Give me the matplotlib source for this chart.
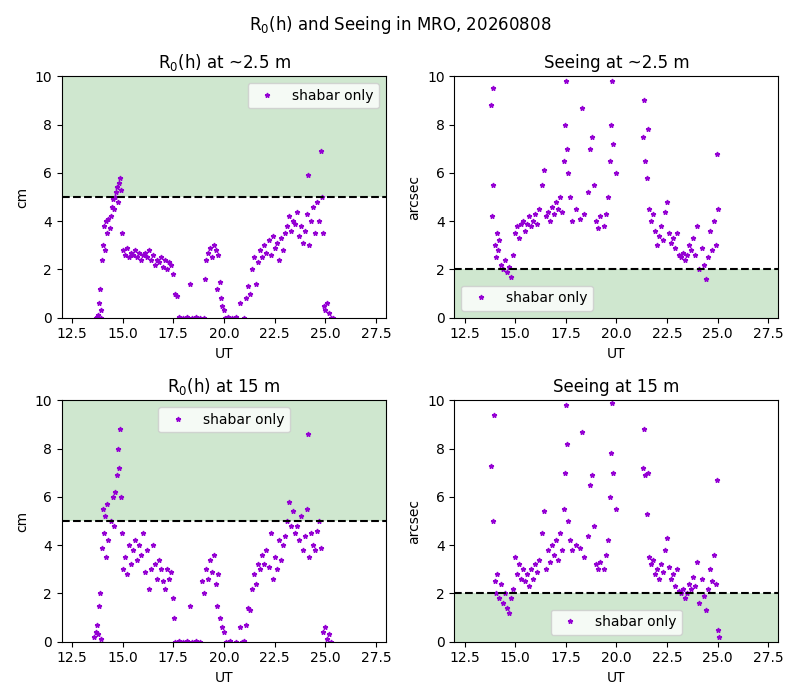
import numpy as np
import matplotlib.pyplot as plt

# R0 at ~2.5 m
t_r0_low = [13.70, 13.75, 13.80, 13.85, 13.88, 13.92, 13.95, 14.00, 14.05, 14.10, 14.15, 14.20, 14.25, 14.30, 14.35, 14.40, 14.45, 14.50, 14.55, 14.60, 14.65, 14.70, 14.75, 14.80, 14.85, 14.90, 14.95, 15.00, 15.10, 15.20, 15.30, 15.40, 15.50, 15.60, 15.70, 15.80, 15.90, 16.00, 16.10, 16.20, 16.30, 16.40, 16.50, 16.60, 16.70, 16.80, 16.90, 17.00, 17.10, 17.20, 17.30, 17.40, 17.50, 17.60, 17.70, 17.80, 18.00, 18.20, 18.30, 18.40, 18.60, 18.80, 19.00, 19.05, 19.10, 19.20, 19.30, 19.40, 19.50, 19.60, 19.65, 19.70, 19.80, 19.85, 19.90, 20.00, 20.05, 20.20, 20.40, 20.60, 20.80, 21.00, 21.10, 21.20, 21.30, 21.40, 21.50, 21.60, 21.70, 21.80, 21.90, 22.00, 22.10, 22.20, 22.30, 22.40, 22.50, 22.60, 22.70, 22.80, 22.90, 23.00, 23.10, 23.20, 23.30, 23.40, 23.50, 23.60, 23.70, 23.80, 23.90, 24.00, 24.10, 24.15, 24.20, 24.30, 24.40, 24.50, 24.60, 24.70, 24.80, 24.85, 24.90, 24.95, 25.00, 25.10, 25.20, 25.30, 25.40]
r0_low = [0.0, 0.05, 0.1, 0.6, 1.2, 0.3, 0.0, 2.4, 3.0, 3.8, 2.8, 4.0, 3.5, 4.1, 3.7, 4.2, 4.6, 4.9, 4.5, 5.0, 5.2, 5.4, 4.8, 5.6, 5.8, 5.3, 3.5, 2.8, 2.6, 2.9, 2.5, 2.7, 2.6, 2.8, 2.5, 2.7, 2.4, 2.6, 2.7, 2.5, 2.8, 2.4, 2.6, 2.2, 2.4, 2.3, 2.5, 2.1, 2.4, 2.0, 2.3, 2.2, 1.8, 1.0, 0.9, 0.05, 0.0, 0.05, 1.4, 0.0, 0.05, 0.0, 0.0, 1.6, 2.4, 2.7, 2.9, 2.5, 3.0, 2.8, 1.2, 2.6, 1.5, 0.8, 0.5, 0.3, 0.0, 0.05, 0.0, 0.05, 0.6, 0.0, 0.8, 1.3, 1.0, 2.0, 2.5, 1.4, 2.3, 2.8, 2.5, 3.0, 2.7, 3.2, 2.6, 3.4, 2.9, 3.1, 2.4, 3.3, 2.8, 3.5, 3.8, 4.2, 3.6, 4.0, 3.9, 4.4, 3.4, 3.8, 3.1, 3.6, 4.3, 5.9, 3.0, 4.0, 4.6, 3.5, 4.8, 4.0, 6.9, 5.0, 3.5, 0.5, 0.3, 0.6, 0.2, 0.0, 0.0]

# seeing at ~2.5 m
t_see_low = [13.80, 13.85, 13.90, 13.92, 14.00, 14.05, 14.10, 14.15, 14.20, 14.30, 14.40, 14.50, 14.60, 14.70, 14.80, 14.90, 15.00, 15.10, 15.20, 15.30, 15.40, 15.50, 15.60, 15.70, 15.80, 15.90, 16.00, 16.10, 16.20, 16.30, 16.40, 16.50, 16.60, 16.70, 16.80, 16.90, 17.00, 17.10, 17.20, 17.30, 17.40, 17.45, 17.50, 17.55, 17.60, 17.70, 17.80, 18.00, 18.20, 18.30, 18.40, 18.60, 18.70, 18.80, 18.90, 19.00, 19.10, 19.20, 19.40, 19.50, 19.60, 19.70, 19.75, 19.80, 19.85, 20.00, 21.30, 21.35, 21.40, 21.50, 21.55, 21.60, 21.70, 21.80, 21.90, 22.00, 22.10, 22.20, 22.30, 22.40, 22.50, 22.60, 22.70, 22.80, 22.90, 23.00, 23.10, 23.20, 23.30, 23.40, 23.50, 23.60, 23.70, 23.80, 23.90, 24.00, 24.10, 24.20, 24.30, 24.40, 24.50, 24.60, 24.70, 24.80, 24.90, 24.95, 25.00]
see_low = [8.8, 4.2, 5.5, 9.5, 3.0, 2.5, 3.5, 2.8, 3.2, 2.2, 2.0, 2.4, 1.9, 2.1, 1.7, 2.6, 3.5, 3.8, 3.3, 3.9, 4.0, 3.6, 3.9, 4.2, 3.8, 4.0, 4.3, 3.9, 4.5, 5.5, 6.1, 4.2, 4.4, 4.0, 4.6, 4.3, 4.8, 4.5, 5.0, 4.4, 6.5, 8.0, 9.8, 7.0, 6.0, 5.0, 4.0, 4.5, 4.1, 8.7, 4.3, 5.2, 7.0, 7.5, 5.5, 4.0, 3.7, 4.2, 3.8, 4.3, 5.0, 6.5, 8.0, 9.8, 7.2, 6.0, 7.5, 9.0, 6.5, 5.8, 7.8, 4.5, 4.0, 4.3, 3.6, 3.0, 3.4, 3.8, 3.2, 4.4, 4.8, 3.5, 3.1, 3.3, 2.9, 3.5, 2.6, 2.5, 2.7, 2.4, 2.6, 3.0, 2.8, 3.3, 2.6, 3.8, 2.0, 2.9, 2.2, 1.6, 2.5, 3.6, 2.8, 4.0, 3.0, 6.8, 4.5]

# R0 at 15 m
t_r0_high = [13.60, 13.70, 13.75, 13.80, 13.85, 13.90, 13.95, 14.00, 14.05, 14.10, 14.15, 14.20, 14.25, 14.30, 14.40, 14.50, 14.55, 14.60, 14.70, 14.75, 14.80, 14.85, 14.90, 14.95, 15.00, 15.10, 15.20, 15.30, 15.40, 15.50, 15.60, 15.70, 15.80, 15.90, 16.00, 16.10, 16.20, 16.30, 16.40, 16.50, 16.60, 16.70, 16.80, 16.90, 17.00, 17.10, 17.20, 17.30, 17.40, 17.50, 17.55, 17.60, 17.80, 18.00, 18.20, 18.30, 18.40, 18.60, 18.80, 18.90, 19.00, 19.10, 19.20, 19.30, 19.40, 19.50, 19.60, 19.65, 19.70, 19.80, 19.90, 20.00, 20.10, 20.30, 20.60, 20.80, 20.90, 21.00, 21.10, 21.20, 21.30, 21.40, 21.50, 21.60, 21.70, 21.80, 21.90, 22.00, 22.10, 22.20, 22.30, 22.40, 22.50, 22.60, 22.70, 22.80, 22.90, 23.00, 23.10, 23.20, 23.30, 23.40, 23.50, 23.60, 23.70, 23.80, 23.90, 24.00, 24.10, 24.15, 24.20, 24.30, 24.40, 24.50, 24.60, 24.70, 24.80, 24.90, 25.00, 25.10, 25.20, 25.30]
r0_high = [0.2, 0.4, 0.7, 0.3, 1.5, 2.0, 0.1, 3.9, 5.5, 4.5, 5.2, 3.5, 5.7, 4.2, 5.0, 6.0, 4.8, 6.2, 6.9, 8.0, 7.2, 8.8, 6.0, 4.5, 3.0, 3.5, 2.8, 4.0, 3.2, 3.8, 4.2, 3.4, 4.0, 3.6, 4.5, 2.9, 3.8, 2.2, 3.0, 4.0, 3.2, 2.6, 3.4, 3.0, 2.5, 2.2, 3.0, 2.6, 2.9, 1.8, 1.0, 0.0, 0.05, 0.0, 0.05, 1.5, 0.0, 0.05, 0.0, 2.5, 2.0, 3.0, 2.6, 3.4, 2.9, 3.6, 2.4, 1.5, 2.8, 1.0, 0.6, 0.4, 0.0, 0.05, 0.0, 0.6, 0.0, 0.05, 0.7, 1.4, 1.3, 2.2, 2.8, 2.4, 3.2, 3.0, 3.6, 3.2, 3.8, 3.1, 4.5, 2.6, 3.5, 3.0, 4.2, 3.4, 4.0, 4.4, 5.0, 5.8, 4.8, 5.4, 4.5, 4.8, 4.2, 5.2, 3.8, 4.4, 5.5, 8.6, 3.5, 4.5, 4.0, 3.8, 4.6, 5.0, 3.9, 0.4, 0.6, 0.1, 0.3, 0.0]

# seeing at 15 m
t_see_high = [13.80, 13.90, 13.95, 14.00, 14.05, 14.10, 14.20, 14.30, 14.40, 14.50, 14.60, 14.70, 14.80, 14.90, 15.00, 15.10, 15.20, 15.30, 15.40, 15.50, 15.60, 15.70, 15.80, 15.90, 16.00, 16.10, 16.20, 16.30, 16.40, 16.50, 16.60, 16.70, 16.80, 16.90, 17.00, 17.10, 17.20, 17.30, 17.40, 17.45, 17.50, 17.55, 17.60, 17.70, 17.80, 18.00, 18.20, 18.30, 18.40, 18.60, 18.70, 18.80, 18.90, 19.00, 19.10, 19.20, 19.40, 19.50, 19.60, 19.70, 19.75, 19.80, 19.85, 20.00, 21.30, 21.35, 21.40, 21.50, 21.55, 21.60, 21.70, 21.80, 21.90, 22.00, 22.10, 22.20, 22.30, 22.40, 22.50, 22.60, 22.70, 22.80, 22.90, 23.00, 23.10, 23.20, 23.30, 23.40, 23.50, 23.60, 23.70, 23.80, 23.90, 24.00, 24.10, 24.20, 24.30, 24.40, 24.50, 24.60, 24.70, 24.80, 24.90, 24.95, 25.00, 25.05]
see_high = [7.3, 5.0, 9.4, 2.5, 2.0, 2.8, 1.8, 2.4, 1.6, 2.0, 1.4, 1.2, 1.8, 2.2, 3.5, 2.8, 3.2, 2.6, 3.0, 2.5, 2.8, 2.3, 3.0, 2.6, 3.2, 2.9, 3.4, 4.5, 5.4, 3.0, 3.8, 3.3, 4.0, 3.6, 4.2, 3.4, 4.5, 3.8, 5.5, 7.0, 9.8, 8.2, 5.0, 4.2, 3.8, 4.0, 3.9, 8.7, 3.5, 4.4, 6.5, 6.9, 4.8, 3.2, 3.0, 3.3, 3.0, 3.6, 4.2, 6.0, 7.8, 9.9, 7.0, 5.5, 7.2, 8.8, 6.9, 5.3, 7.0, 3.5, 3.2, 3.4, 2.8, 3.0, 2.6, 3.2, 2.9, 3.8, 4.3, 3.1, 2.6, 2.8, 2.3, 3.0, 2.1, 2.0, 2.2, 1.8, 2.0, 2.4, 2.2, 2.7, 2.3, 3.3, 1.6, 2.6, 1.9, 1.3, 2.2, 3.0, 2.5, 3.6, 2.4, 6.7, 0.5, 0.2]

fig, axes = plt.subplots(2, 2, figsize=(8, 7), dpi=100)
fig.suptitle('R$_0$(h) and Seeing in MRO, 20260808')

panels = [
    (axes[0, 0], t_r0_low, r0_low, 'R$_0$(h) at ~2.5 m', 'cm', 5, (5, 10), 'upper right'),
    (axes[0, 1], t_see_low, see_low, 'Seeing at ~2.5 m', 'arcsec', 2, (0, 2), 'lower left'),
    (axes[1, 0], t_r0_high, r0_high, 'R$_0$(h) at 15 m', 'cm', 5, (5, 10), 'upper center'),
    (axes[1, 1], t_see_high, see_high, 'Seeing at 15 m', 'arcsec', 2, (0, 2), 'lower center'),
]

for ax, t, y, title, unit, lim, band, loc in panels:
    ax.axhspan(band[0], band[1], color='green', alpha=0.19, lw=0)
    ax.plot(t, y, '*', color='darkviolet', ms=3.5, label='shabar only')
    ax.axhline(lim, color='k', ls='--')
    ax.set_xlim(12, 28)
    ax.set_ylim(0, 10)
    ax.set_xticks([12.5, 15.0, 17.5, 20.0, 22.5, 25.0, 27.5])
    ax.set_title(title)
    ax.set_xlabel('UT')
    ax.set_ylabel(unit)
    ax.legend(loc=loc)

plt.tight_layout()
plt.savefig('out.png')
